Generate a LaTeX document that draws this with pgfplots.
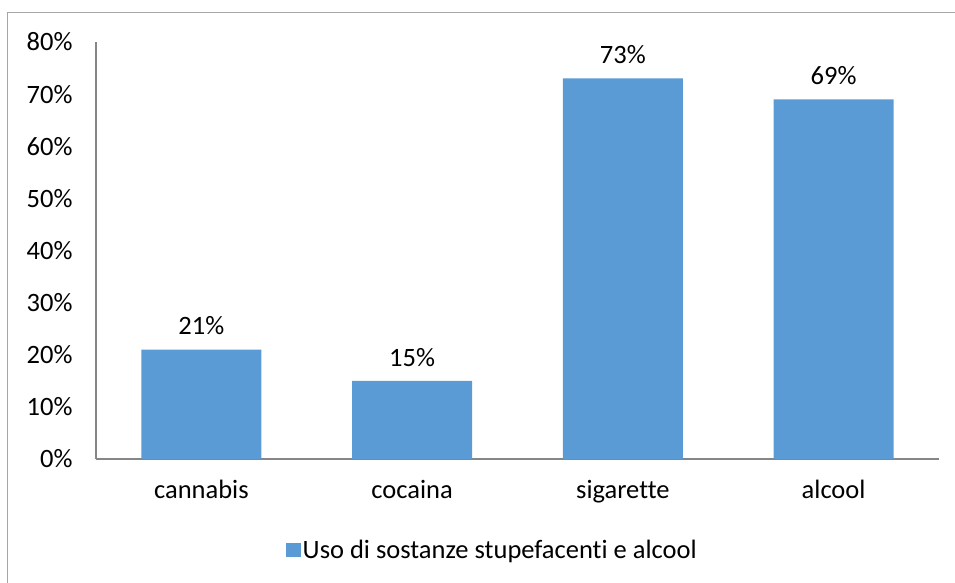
\documentclass[border=0pt]{standalone}
\usepackage{pgfplots}
\pgfplotsset{compat=1.18}
\usepackage{fontspec}
\setmainfont{Carlito}[Ligatures=NoCommon]
\definecolor{barblue}{HTML}{5B9BD5}
\definecolor{axisgray}{HTML}{868686}
\definecolor{bordergray}{HTML}{A6A6A6}
\newcommand{\chartfont}{\fontsize{26.5}{31}\selectfont}
\begin{document}
\begin{tikzpicture}[font=\chartfont]
\useasboundingbox (-96pt,-124pt) rectangle (859pt,459pt);
\begin{axis}[
  at={(0pt,0pt)}, anchor=south west,
  scale only axis, width=843pt, height=417pt,
  ybar, bar width=120pt,
  xmin=-0.5, xmax=3.5, ymin=0, ymax=80,
  xtick={0,1,2,3},
  xticklabels={cannabis,cocaina,sigarette,alcool},
  ytick={0,10,20,30,40,50,60,70,80},
  yticklabels={0\%,10\%,20\%,30\%,40\%,50\%,60\%,70\%,80\%},
  axis x line=bottom, axis y line=left,
  axis line style={-, draw=axisgray, line width=1.3pt},
  major tick length=0pt,
  tick style={draw=none},
  /pgf/number format/assume math mode=true,
  yticklabel style={font=\chartfont, xshift=-20pt},
  xticklabel style={font=\chartfont, yshift=-18pt},
  nodes near coords={\pgfmathprintnumber{\pgfplotspointmeta}\%},
  nodes near coords style={font=\chartfont, anchor=south, yshift=11pt},
  legend style={draw=none, at={(0.470,-0.218)}, anchor=center,
    font=\chartfont},
  legend image code/.code={\fill[barblue] (0pt,-7pt) rectangle (15pt,7pt);},
]
\addplot[fill=barblue, draw=none] coordinates {(0,21) (1,15) (2,73) (3,69)};
\addlegendentry{Uso di sostanze stupefacenti e alcool}
\end{axis}
\draw[bordergray, line width=1pt] (1000pt,446pt) -- (-88pt,446pt) -- (-88pt,-200pt);
\end{tikzpicture}
\end{document}
